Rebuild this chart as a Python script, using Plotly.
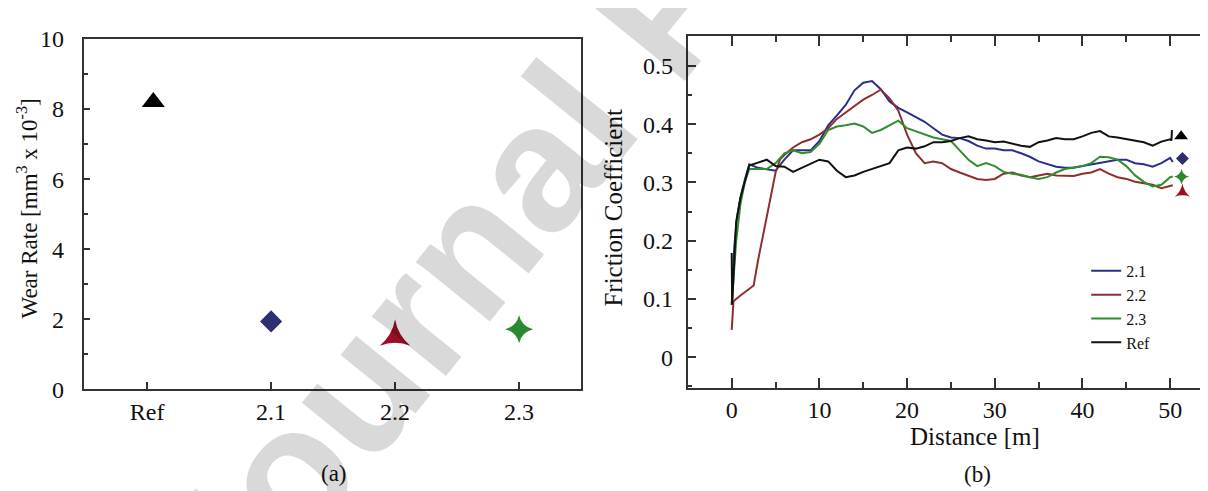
import plotly.graph_objects as go

# ---------------- data ----------------
# panel (a): wear rate
wear_categories = ["Ref", "2.1", "2.2", "2.3"]
wear_pos = [0.05, 1.0, 2.0, 3.0]
wear_rate = [8.2, 1.94, 1.5, 1.72]

# panel (b): friction coefficient vs distance
dist_21 = [0, 0.3, 0.6, 1, 1.5, 2, 3, 4, 5, 6, 7, 8, 9, 10, 11, 12, 13, 14, 15, 16, 17, 18, 19, 20,
           21, 22, 23, 24, 25, 26, 27, 28, 29, 30, 31, 32, 33, 34, 35, 36, 37, 38, 39, 40,
           41, 42, 43, 44, 45, 46, 47, 48, 49, 50, 50.3]
cof_21 = [0.09, 0.19, 0.24, 0.274, 0.305, 0.331, 0.325, 0.322, 0.32, 0.339, 0.355, 0.355, 0.355, 0.371,
          0.398, 0.415, 0.433, 0.458, 0.471, 0.474, 0.46, 0.439, 0.428, 0.42,
          0.412, 0.404, 0.393, 0.382, 0.377, 0.376, 0.371, 0.363, 0.358, 0.358, 0.355, 0.355, 0.35,
          0.344, 0.336, 0.331, 0.327, 0.325, 0.325, 0.328, 0.331, 0.333, 0.336, 0.339, 0.339,
          0.333, 0.331, 0.327, 0.333, 0.342, 0.335]

dist_22 = [0, 0.2, 1, 2, 2.5, 3, 4, 5, 5.5, 6, 7, 8, 9, 10, 11, 12, 13, 14, 15, 16, 17, 18, 19, 20,
           21, 22, 23, 24, 25, 26, 27, 28, 29, 30, 31, 32, 33, 34, 35, 36, 37, 38, 39, 40,
           41, 42, 43, 44, 45, 46, 47, 48, 49, 50, 50.3]
cof_22 = [0.047, 0.096, 0.106, 0.117, 0.123, 0.166, 0.242, 0.317, 0.339, 0.347, 0.36, 0.369, 0.374,
          0.382, 0.393, 0.409, 0.42, 0.431, 0.442, 0.45, 0.459, 0.444, 0.423, 0.382,
          0.35, 0.333, 0.336, 0.333, 0.323, 0.317, 0.312, 0.306, 0.304, 0.306, 0.315, 0.317, 0.312,
          0.309, 0.312, 0.315, 0.312, 0.311, 0.311, 0.315, 0.317, 0.323, 0.315, 0.309, 0.306,
          0.301, 0.298, 0.296, 0.29, 0.293, 0.295]

dist_23 = [0, 0.5, 1, 1.5, 2, 3, 4, 5, 6, 7, 8, 9, 10, 11, 12, 13, 14, 15, 16, 17, 18, 19, 20,
           21, 22, 23, 24, 25, 26, 27, 28, 29, 30, 31, 32, 33, 34, 35, 36, 37, 38, 39, 40,
           41, 42, 43, 44, 45, 46, 47, 48, 49, 50, 50.3]
cof_23 = [0.09, 0.198, 0.263, 0.301, 0.323, 0.323, 0.323, 0.333, 0.35, 0.355, 0.35, 0.352, 0.366,
          0.39, 0.396, 0.398, 0.401, 0.396, 0.385, 0.39, 0.398, 0.406, 0.393,
          0.388, 0.382, 0.377, 0.374, 0.371, 0.355, 0.339, 0.328, 0.333, 0.328, 0.318, 0.315, 0.313,
          0.309, 0.306, 0.309, 0.317, 0.323, 0.325, 0.328, 0.333, 0.344, 0.343, 0.339, 0.328,
          0.312, 0.301, 0.293, 0.296, 0.309, 0.31]

dist_ref = [0, 0.05, 0.5, 1, 1.5, 2, 3, 4, 5, 6, 7, 8, 9, 10, 11, 12, 13, 14, 15, 16, 17, 18, 19, 20,
            21, 22, 23, 24, 25, 26, 27, 28, 29, 30, 31, 32, 33, 34, 35, 36, 37, 38, 39, 40,
            41, 42, 43, 44, 45, 46, 47, 48, 49, 50, 50.15, 50.2]
cof_ref = [0.179, 0.09, 0.231, 0.274, 0.301, 0.329, 0.334, 0.339, 0.328, 0.327, 0.318, 0.325, 0.331,
           0.339, 0.336, 0.32, 0.309, 0.312, 0.318, 0.323, 0.327, 0.333, 0.355, 0.36,
           0.358, 0.362, 0.369, 0.369, 0.371, 0.376, 0.379, 0.374, 0.372, 0.369, 0.37, 0.366, 0.363,
           0.361, 0.369, 0.372, 0.376, 0.374, 0.374, 0.379, 0.385, 0.388, 0.379, 0.377, 0.374,
           0.371, 0.369, 0.363, 0.37, 0.374, 0.372, 0.39]

# end-of-curve marker symbols in panel (b)  (order: Ref, 2.1, 2.3, 2.2)
end_dist = [51.25, 51.4, 51.3, 51.4]
end_cof = [0.379, 0.341, 0.31, 0.283]

series_names = ["2.1", "2.2", "2.3", "Ref"]
line_colors = ["#2b2f8c", "#8e2f2f", "#2f8f2f", "#111111"]
marker_colors = ["#2e2e72", "#9a0e26", "#2a8a30", "#000000"]
marker_symbols = ["diamond", "star-triangle-up", "star-diamond", "triangle-up"]

FONT = "Liberation Serif, Times New Roman, serif"
W, H = 1208, 491

fig = go.Figure()

# ---------------- panel (a) ----------------
wear_symbol = [marker_symbols[3], marker_symbols[0], marker_symbols[1], marker_symbols[2]]
wear_color = [marker_colors[3], marker_colors[0], marker_colors[1], marker_colors[2]]
wear_size = [20, 17, 22, 20]
for i in range(len(wear_categories)):
    fig.add_trace(go.Scatter(
        x=[wear_pos[i]], y=[wear_rate[i]], mode="markers",
        marker=dict(symbol=wear_symbol[i], color=wear_color[i], size=wear_size[i],
                    line=dict(width=0)),
        showlegend=False, xaxis="x", yaxis="y"))

# ---------------- panel (b) ----------------
xs = [dist_21, dist_22, dist_23, dist_ref]
ys = [cof_21, cof_22, cof_23, cof_ref]
for i in range(4):
    fig.add_trace(go.Scatter(
        x=xs[i], y=ys[i], mode="lines", name=series_names[i],
        line=dict(color=line_colors[i], width=2),
        xaxis="x2", yaxis="y2"))

end_order = [3, 0, 2, 1]  # Ref, 2.1, 2.3, 2.2 top to bottom
end_size = [12, 10, 11, 11]
for k, i in enumerate(end_order):
    fig.add_trace(go.Scatter(
        x=[end_dist[k]], y=[end_cof[k]], mode="markers",
        marker=dict(symbol=marker_symbols[i], color=marker_colors[i], size=end_size[k],
                    line=dict(width=0)),
        showlegend=False, xaxis="x2", yaxis="y2"))

axis_common = dict(showline=True, linecolor="#333333", linewidth=2, showgrid=False,
                   zeroline=False, tickcolor="#333333", tickwidth=2,
                   tickfont=dict(family=FONT, size=24, color="#111111"))

fig.update_layout(
    width=W, height=H,
    margin=dict(l=0, r=0, t=0, b=0),
    paper_bgcolor="white", plot_bgcolor="white",
    xaxis=dict(domain=[76 / W, 574 / W], range=[-0.51, 3.5],
               tickvals=[0, 1, 2, 3], ticktext=wear_categories,
               ticks="inside", ticklen=7, mirror=True, **axis_common),
    yaxis=dict(domain=[1 - 389 / H, 1 - 19 / H], range=[0, 10], dtick=2,
               ticks="inside", ticklen=6, mirror=True, ticklabelstandoff=13,
               minor=dict(dtick=1, ticks="inside", ticklen=4, tickcolor="#333333"),
               **axis_common),
    xaxis2=dict(domain=[681 / W, 1.0], range=[-5, 55], dtick=10, anchor="y2",
                ticks="inside", ticklen=10, mirror="allticks",
                minor=dict(dtick=5, ticks="inside", ticklen=6, tickcolor="#333333"),
                **axis_common),
    yaxis2=dict(domain=[1 - 387 / H, 1 - 16 / H], range=[-0.052, 0.551], dtick=0.1,
                anchor="x2", ticks="inside", ticklen=8, mirror="allticks", ticklabelstandoff=8,
                minor=dict(dtick=0.05, ticks="inside", ticklen=4, tickcolor="#333333"),
                **axis_common),
    legend=dict(x=1080 / W, y=1 - 246 / H, xanchor="left", yanchor="top",
                bgcolor="rgba(0,0,0,0)", font=dict(family=FONT, size=16, color="#111111"),
                tracegroupgap=0, itemwidth=30),
    font=dict(family=FONT, color="#111111"),
)

def ann(text, px, py, size=22, angle=0, family=FONT, color="#111111"):
    fig.add_annotation(text=text, x=px / W, y=1 - py / H, xref="paper", yref="paper",
                       showarrow=False, xanchor="center", yanchor="middle",
                       textangle=angle, font=dict(family=family, size=size, color=color))

ann("Wear Rate [mm<sup>3</sup> x 10<sup>-3</sup>]", 20, 198, size=23, angle=-90)
ann("Friction Coefficient", 607, 197, size=25, angle=-90)
ann("Distance [m]", 969, 439, size=25)
ann("(a)", 327, 478, size=23)
ann("(b)", 971, 479, size=23)

# watermark
fig.add_annotation(text="<b>Journal Pre-proof</b>", x=657 / W, y=1 + 14 / H, xref="paper", yref="paper",
                   showarrow=False, xanchor="center", yanchor="middle", textangle=-51,
                   font=dict(family="Liberation Sans", size=180, color="rgba(0,0,0,0.15)"))

fig.write_html("out.html")
